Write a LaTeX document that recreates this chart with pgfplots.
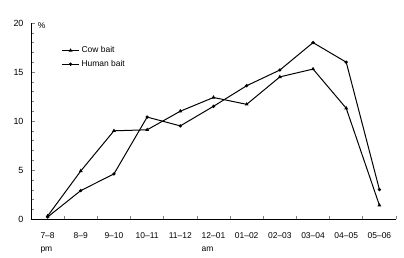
\documentclass[border=0pt]{standalone}
\usepackage{pgfplots}
\pgfplotsset{compat=1.18}
\usepackage{fontspec}
\setmainfont{Liberation Sans}
\begin{document}
\begin{tikzpicture}
\path[use as bounding box] (-31bp,-39bp) rectangle (373bp,219bp);
\begin{axis}[
  scale only axis, width=365bp, height=196bp,
  xmin=-0.5, xmax=10.5, ymin=0, ymax=20,
  axis x line=bottom, axis y line=left,
  axis line style={-, line width=0.8pt},
  xtick={0,...,10},
  xticklabels={{7--8\\pm},{8--9},{9--10},{10--11},{11--12},{12--01\\am},{01--02},{02--03},{03--04},{04--05},{05--06}},
  xticklabel style={align=left, anchor=north, yshift=-10bp, font=\fontsize{8.5}{13}\selectfont},
  major x tick style={draw=none},
  minor xtick={0.5,1.5,...,10.5},
  minor x tick style={line width=0.7pt},
  minor tick length=3bp,
  ytick={0,5,10,15,20},
  minor y tick num=4,
  major tick length=4bp,
  tick align=inside,
  yticklabel style={font=\fontsize{9}{10}\selectfont, xshift=-4bp},
  /pgf/number format/assume math mode=true,
  legend style={draw=none, at={(0.075,0.90)}, anchor=north west, font=\fontsize{8.5}{10}\selectfont, row sep=2pt, fill=none},
  legend cell align=left,
  clip=false,
]
\addplot[black, line width=1pt, mark=triangle*, mark size=1.3pt] coordinates {
(0,0.3) (1,4.9) (2,9.0) (3,9.1) (4,11.0) (5,12.4) (6,11.7) (7,14.5) (8,15.3) (9,11.3) (10,1.4)};
\addlegendentry{Cow bait}
\addplot[black, line width=1pt, mark=*, mark size=1.1pt] coordinates {
(0,0.2) (1,2.9) (2,4.6) (3,10.4) (4,9.5) (5,11.5) (6,13.6) (7,15.2) (8,18.0) (9,16.0) (10,3.0)};
\addlegendentry{Human bait}
\node[anchor=south west, inner sep=0pt, font=\fontsize{8.5}{10}\selectfont] at (axis cs:-0.3,19.4) {\%};
\end{axis}
\end{tikzpicture}
\end{document}
